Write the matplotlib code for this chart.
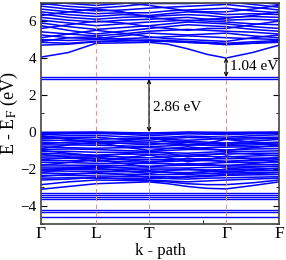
import numpy as np
import matplotlib
matplotlib.use("Agg")
import matplotlib.pyplot as plt

plt.rcParams['font.family'] = ['Liberation Serif', 'DejaVu Serif']
plt.rcParams['mathtext.fontset'] = 'stix'

# k-path: high-symmetry labels and positions (path distance)
kpoint_labels = ['Γ', 'L', 'T', 'Γ', 'F']
kpoint_pos = [0.0, 0.55, 1.08, 1.85, 2.38]
# sample points along the path: G, GL, L, LT, T, TG x3, G, GF, F
k_samples = [0.0, 0.275, 0.55, 0.815, 1.08, 1.27, 1.465, 1.66, 1.85, 2.115, 2.38]

# conduction bands (eV)
cond_bands = [
    [4.05, 4.30, 4.80, 4.82, 4.85, 4.75, 4.50, 4.20, 4.00, 4.30, 4.70],
    [4.70, 4.75, 4.88, 4.92, 4.95, 4.90, 4.85, 4.80, 4.72, 4.80, 4.90],
    [4.85, 4.80, 4.90, 4.95, 4.98, 4.95, 4.90, 4.85, 4.80, 4.88, 4.95],
    [5.00, 4.95, 5.00, 5.05, 5.10, 5.15, 5.20, 5.15, 5.10, 5.05, 5.00],
    [5.25, 5.10, 5.05, 5.20, 5.35, 5.30, 5.25, 5.30, 5.35, 5.20, 5.10],
    [5.42, 5.30, 5.20, 5.30, 5.45, 5.50, 5.55, 5.50, 5.45, 5.40, 5.30],
    [5.75, 5.50, 5.30, 5.45, 5.60, 5.70, 5.80, 5.75, 5.70, 5.55, 5.45],
    [5.90, 5.70, 5.55, 5.65, 5.75, 5.85, 5.95, 5.90, 5.85, 5.70, 5.60],
    [6.05, 5.90, 5.75, 5.85, 5.95, 6.00, 6.05, 6.00, 5.95, 5.85, 5.80],
    [6.20, 6.05, 5.95, 6.05, 6.10, 6.15, 6.20, 6.10, 6.05, 6.10, 6.05],
    [6.38, 6.20, 6.10, 6.20, 6.25, 6.30, 6.35, 6.30, 6.20, 6.25, 6.20],
    [6.50, 6.35, 6.25, 6.35, 6.30, 6.40, 6.50, 6.45, 6.35, 6.40, 6.35],
    [6.65, 6.50, 6.40, 6.45, 6.45, 6.55, 6.60, 6.65, 6.70, 6.55, 6.45],
    [6.81, 6.65, 6.55, 6.60, 6.70, 6.75, 6.80, 6.85, 6.90, 6.75, 6.60],
    [6.96, 6.80, 6.70, 6.80, 6.95, 6.95, 6.95, 7.00, 7.05, 6.90, 6.75],
    [7.10, 6.95, 6.85, 6.95, 7.10, 7.10, 7.10, 7.10, 7.20, 7.05, 6.90],
    [5.60, 5.80, 6.00, 5.90, 5.70, 5.60, 5.50, 5.60, 5.60, 5.80, 6.00],
    [6.30, 6.50, 6.65, 6.50, 6.20, 6.10, 6.00, 6.10, 6.15, 6.30, 6.50],
    [5.10, 5.30, 5.50, 5.35, 5.15, 5.05, 5.00, 4.95, 4.90, 5.10, 5.25],
    [4.90, 5.10, 5.15, 5.00, 4.90, 4.90, 4.85, 4.80, 4.75, 4.80, 4.85],
    [6.90, 7.00, 7.10, 7.00, 6.85, 6.70, 6.55, 6.50, 6.50, 6.65, 6.85],
]

# valence bands (eV)
val_bands = [
    [-0.02, -0.01, 0.00, -0.03, -0.05, -0.03, 0.00, -0.01, -0.02, -0.01, 0.00],
    [-0.08, -0.05, -0.04, -0.08, -0.12, -0.08, -0.05, -0.06, -0.08, -0.05, -0.04],
    [-0.15, -0.10, -0.08, -0.12, -0.20, -0.15, -0.10, -0.12, -0.15, -0.10, -0.08],
    [-0.25, -0.20, -0.18, -0.25, -0.30, -0.28, -0.22, -0.25, -0.28, -0.20, -0.15],
    [-0.30, -0.35, -0.40, -0.35, -0.35, -0.40, -0.45, -0.40, -0.35, -0.30, -0.28],
    [-0.38, -0.30, -0.28, -0.40, -0.45, -0.35, -0.30, -0.32, -0.40, -0.38, -0.35],
    [-0.45, -0.45, -0.50, -0.50, -0.55, -0.50, -0.50, -0.55, -0.60, -0.50, -0.40],
    [-0.55, -0.60, -0.65, -0.60, -0.60, -0.65, -0.70, -0.65, -0.60, -0.60, -0.55],
    [-0.65, -0.55, -0.50, -0.62, -0.70, -0.60, -0.58, -0.62, -0.68, -0.62, -0.58],
    [-0.70, -0.70, -0.72, -0.75, -0.80, -0.75, -0.70, -0.72, -0.75, -0.70, -0.65],
    [-0.80, -0.85, -0.88, -0.85, -0.85, -0.88, -0.90, -0.85, -0.82, -0.80, -0.78],
    [-0.95, -0.92, -0.95, -1.00, -1.05, -1.00, -0.95, -0.95, -0.98, -0.92, -0.90],
    [-1.05, -1.05, -1.10, -1.10, -1.10, -1.12, -1.15, -1.10, -1.05, -1.05, -1.02],
    [-1.15, -1.20, -1.25, -1.20, -1.20, -1.25, -1.25, -1.20, -1.20, -1.15, -1.15],
    [-1.30, -1.30, -1.30, -1.35, -1.40, -1.35, -1.30, -1.32, -1.35, -1.30, -1.25],
    [-1.40, -1.42, -1.45, -1.45, -1.50, -1.48, -1.45, -1.45, -1.45, -1.42, -1.40],
    [-1.55, -1.55, -1.55, -1.60, -1.65, -1.60, -1.55, -1.55, -1.58, -1.55, -1.50],
    [-1.65, -1.65, -1.70, -1.70, -1.70, -1.72, -1.75, -1.70, -1.65, -1.65, -1.62],
    [-1.78, -1.80, -1.80, -1.82, -1.85, -1.82, -1.80, -1.80, -1.80, -1.78, -1.75],
    [-1.90, -1.90, -1.92, -1.95, -1.95, -1.95, -1.95, -1.92, -1.90, -1.88, -1.85],
    [-2.00, -2.02, -2.05, -2.05, -2.05, -2.05, -2.05, -2.05, -2.05, -2.00, -1.98],
    [-2.10, -2.12, -2.15, -2.15, -2.15, -2.18, -2.20, -2.15, -2.12, -2.10, -2.08],
    [-2.22, -2.25, -2.25, -2.28, -2.30, -2.30, -2.30, -2.25, -2.22, -2.20, -2.18],
    [-2.35, -2.35, -2.38, -2.40, -2.40, -2.42, -2.45, -2.40, -2.35, -2.32, -2.30],
    [-2.50, -2.48, -2.50, -2.50, -2.50, -2.52, -2.55, -2.50, -2.48, -2.45, -2.42],
    [-0.20, -0.40, -0.60, -0.50, -0.30, -0.50, -0.70, -0.60, -0.40, -0.55, -0.70],
    [-0.90, -0.70, -0.55, -0.80, -1.00, -0.90, -0.80, -0.90, -1.00, -0.85, -0.70],
    [-1.00, -1.15, -1.30, -1.20, -1.05, -1.15, -1.35, -1.25, -1.12, -1.20, -1.30],
    [-1.20, -1.35, -1.60, -1.40, -1.25, -1.40, -1.60, -1.50, -1.30, -1.45, -1.60],
    [-1.50, -1.40, -1.35, -1.50, -1.60, -1.55, -1.45, -1.50, -1.62, -1.50, -1.40],
    [-1.80, -1.65, -1.50, -1.70, -1.90, -1.80, -1.70, -1.75, -1.85, -1.70, -1.60],
    [-2.05, -1.95, -1.85, -1.92, -2.10, -2.20, -2.25, -2.15, -2.00, -1.90, -1.85],
    [-2.20, -2.00, -1.95, -2.10, -2.25, -2.10, -2.00, -2.10, -2.20, -2.05, -1.95],
    [-2.40, -2.30, -2.20, -2.30, -2.45, -2.50, -2.40, -2.35, -2.30, -2.25, -2.20],
    [-2.60, -2.55, -2.45, -2.55, -2.60, -2.65, -2.70, -2.65, -2.60, -2.55, -2.50],
    [-2.85, -2.70, -2.60, -2.62, -2.65, -2.70, -2.80, -2.85, -2.85, -2.75, -2.60],
    [-3.10, -2.95, -2.80, -2.75, -2.70, -2.80, -2.95, -3.05, -3.08, -2.90, -2.70],
]

# dispersionless (flat) levels
gap_levels = [2.87, 2.98]
deep_levels = [-3.31, -3.42, -3.53, -3.64, -4.22, -4.32, -4.60]

gap_vb_cb = (0.0, 2.86)
gap_defect_cb = (2.98, 4.02)

fig = plt.figure(figsize=(2.86, 2.60), dpi=100)
ax = fig.add_axes([0.143, 0.137, 0.833, 0.853])

blue = '#0000ff'
for band in cond_bands + val_bands:
    ax.plot(k_samples, band, color=blue, lw=1.1)
ax.hlines(gap_levels + deep_levels, kpoint_pos[0], kpoint_pos[-1], color=blue, lw=1.0)

# dashed lines at inner k-points
for kp in kpoint_pos[1:-1]:
    ax.axvline(kp, color='#c89a9a', lw=0.8, ls=(0, (4, 3)), zorder=5)

# gap arrows
arrow_kw = dict(arrowstyle='<->', color='black', lw=0.8, mutation_scale=6, shrinkA=0, shrinkB=0)
ax.annotate('', xy=(kpoint_pos[2], gap_vb_cb[1]), xytext=(kpoint_pos[2], gap_vb_cb[0]),
            arrowprops=arrow_kw, zorder=6)
ax.text(kpoint_pos[2] + 0.04, 1.35, '%.2f eV' % (gap_vb_cb[1] - gap_vb_cb[0]),
        fontsize=11, va='center', ha='left')
ax.annotate('', xy=(kpoint_pos[3], gap_defect_cb[1]), xytext=(kpoint_pos[3], gap_defect_cb[0]),
            arrowprops=arrow_kw, zorder=6)
ax.text(kpoint_pos[3] + 0.04, 3.53, '%.2f eV' % (gap_defect_cb[1] - gap_defect_cb[0]),
        fontsize=11, va='center', ha='left')

ax.set_xlim(kpoint_pos[0], kpoint_pos[-1])
ax.set_ylim(-5, 7)
ax.set_xticks(kpoint_pos)
ax.set_xticklabels(kpoint_labels, fontsize=12.5)
ax.set_xticks([1.62], minor=True)
ax.set_yticks([-4, -2, 0, 2, 4, 6])
ax.set_yticks([-5, -3, -1, 1, 3, 5, 7], minor=True)
ax.tick_params(axis='y', which='both', direction='in', left=True, right=True, labelsize=11)
ax.tick_params(axis='y', which='major', length=4)
ax.tick_params(axis='y', which='minor', length=2)
ax.tick_params(axis='x', which='major', length=0, pad=1.5)
ax.tick_params(axis='x', which='minor', direction='in', length=3)
for sp in ax.spines.values():
    sp.set_linewidth(1.2)
    sp.set_color('#444444')

# x label placed in figure space so the descenders stay inside
fig.text(0.56, 0.002, 'k - path', fontsize=12, ha='center', va='bottom')
ax.set_ylabel(r'E - E$_\mathrm{F}$ (eV)', fontsize=13, labelpad=0)

fig.savefig('out.png', dpi=100)
